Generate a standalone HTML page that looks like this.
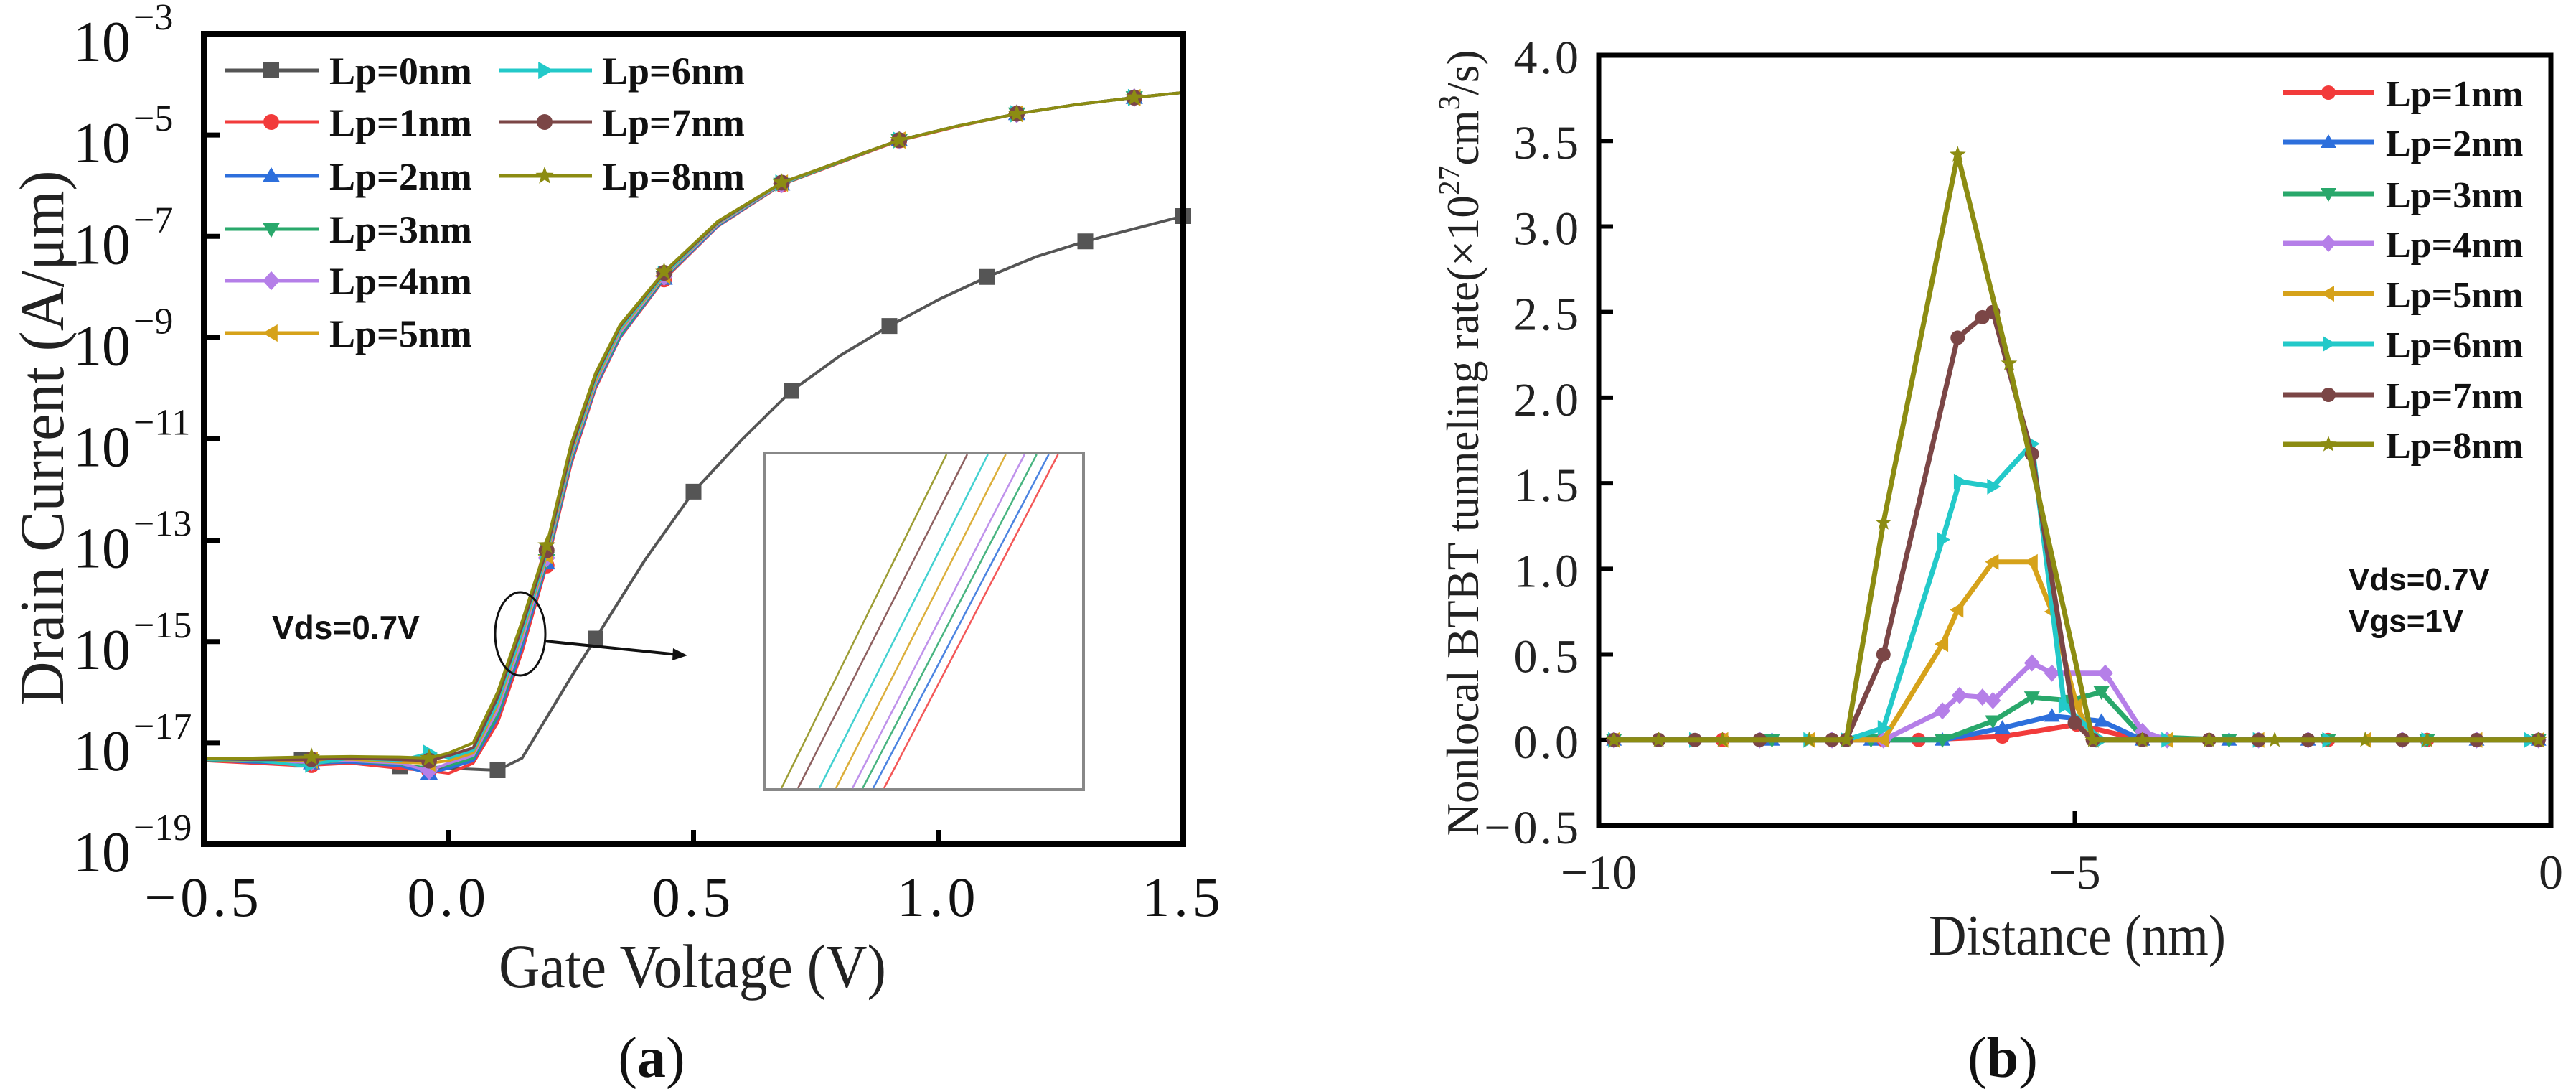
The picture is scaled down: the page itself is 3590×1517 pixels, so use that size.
<!DOCTYPE html>
<html><head><meta charset="utf-8"><style>
html,body{margin:0;padding:0;background:#fff;}
svg{display:block;}
text{font-family:"Liberation Serif",serif;}
.sans{font-family:"Liberation Sans",sans-serif;font-weight:bold;}
</style></head>
<body>
<svg id="fig" width="3590" height="1517" viewBox="0 0 3590 1517" xmlns="http://www.w3.org/2000/svg">
<rect width="3590" height="1517" fill="#fff"/>
<g id="pa"></g>
<g id="pb"></g>
</svg>
<script>
// ---------- Panel (a) data ----------
const aXTicks = [-0.5, 0.0, 0.5, 1.0, 1.5];
const aXTickLabels = ["\u22120.5", "0.0", "0.5", "1.0", "1.5"];
const aYTickExps = [-3, -5, -7, -9, -11, -13, -15, -17, -19];
const aSeriesNames = ["Lp=0nm","Lp=1nm","Lp=2nm","Lp=3nm","Lp=4nm","Lp=5nm","Lp=6nm","Lp=7nm","Lp=8nm"];
const lp0V = [-0.5,-0.3,-0.1,0.1,0.15,0.2,0.25,0.3,0.4,0.5,0.6,0.7,0.8,0.9,1.0,1.1,1.2,1.3,1.4,1.5];
const lp0Log = [-17.35,-17.33,-17.46,-17.54,-17.3,-16.5,-15.7,-14.94,-13.4,-12.04,-11.0,-10.05,-9.35,-8.77,-8.25,-7.8,-7.4,-7.1,-6.85,-6.6];
const lp0MarkV = [-0.3,-0.1,0.1,0.3,0.5,0.7,0.9,1.1,1.3,1.5];
const aV = [-0.5,-0.4,-0.3,-0.2,-0.1,-0.04,0.0,0.05,0.1,0.15,0.2,0.25,0.3,0.35,0.44,0.55,0.68,0.8,0.92,1.04,1.16,1.28,1.4,1.5];
const lp1Log = [-17.35,-17.4,-17.45,-17.4,-17.5,-17.55,-17.6,-17.4,-16.6,-15.2,-13.5,-11.5,-10.0,-9.0,-7.85,-6.8,-5.98,-5.54,-5.11,-4.83,-4.58,-4.4,-4.26,-4.16];
const lp2Log = [-17.33,-17.38,-17.4,-17.38,-17.45,-17.6,-17.5,-17.35,-16.5,-15.1,-13.45,-11.45,-9.97,-8.98,-7.83,-6.79,-5.97,-5.53,-5.1,-4.82,-4.58,-4.4,-4.26,-4.16];
const lp3Log = [-17.33,-17.36,-17.4,-17.35,-17.42,-17.5,-17.45,-17.3,-16.45,-15.0,-13.4,-11.4,-9.93,-8.95,-7.81,-6.77,-5.97,-5.53,-5.1,-4.82,-4.58,-4.4,-4.26,-4.16];
const lp4Log = [-17.32,-17.35,-17.38,-17.35,-17.4,-17.55,-17.4,-17.25,-16.35,-14.95,-13.35,-11.35,-9.9,-8.9,-7.79,-6.76,-5.96,-5.52,-5.1,-4.82,-4.58,-4.4,-4.26,-4.16];
const lp5Log = [-17.32,-17.35,-17.35,-17.32,-17.38,-17.4,-17.35,-17.2,-16.25,-14.85,-13.3,-11.3,-9.85,-8.85,-7.77,-6.74,-5.95,-5.52,-5.1,-4.82,-4.58,-4.4,-4.26,-4.16];
const lp6Log = [-17.32,-17.34,-17.45,-17.3,-17.35,-17.2,-17.3,-17.15,-16.2,-14.8,-13.25,-11.25,-9.8,-8.82,-7.75,-6.73,-5.95,-5.52,-5.1,-4.82,-4.58,-4.4,-4.26,-4.16];
const lp7Log = [-17.31,-17.33,-17.33,-17.3,-17.33,-17.35,-17.25,-17.1,-16.1,-14.7,-13.2,-11.2,-9.75,-8.78,-7.72,-6.72,-5.94,-5.52,-5.1,-4.82,-4.58,-4.4,-4.26,-4.16];
const lp8Log = [-17.3,-17.3,-17.28,-17.27,-17.28,-17.3,-17.2,-17.0,-16.0,-14.6,-13.1,-11.1,-9.7,-8.75,-7.7,-6.7,-5.94,-5.52,-5.1,-4.82,-4.58,-4.4,-4.26,-4.16];
const aMarkV = [-0.28,-0.04,0.2,0.44,0.68,0.92,1.16,1.4];
// inset: bottom/top x-positions (fraction of inset width) for Lp1..Lp8
const insetBottom = [0.392,0.374,0.340,0.307,0.275,0.223,0.171,0.104,0.052];
const insetTop = [0.0,0.920,0.891,0.853,0.815,0.756,0.700,0.635,0.570];

// ---------- Panel (b) data ----------
const bXTicks = [-10, -5, 0];
const bXTickLabels = ["\u221210", "\u22125", "0"];
const bYTicks = [4.0,3.5,3.0,2.5,2.0,1.5,1.0,0.5,0.0,-0.5];
const bYTickLabels = ["4.0","3.5","3.0","2.5","2.0","1.5","1.0","0.5","0.0","\u22120.5"];
const bNames = ["Lp=1nm","Lp=2nm","Lp=3nm","Lp=4nm","Lp=5nm","Lp=6nm","Lp=7nm","Lp=8nm"];
const b1X = [-9.84,-8.70,-7.55,-7.01,-6.64,-5.76,-4.98,-4.29,-3.59,-2.34,-1.30,-0.13];
const b1Y = [0,0,0,0,0,0.02,0.09,0,0,0,0,0];
const b2X = [-9.84,-8.18,-7.14,-6.39,-5.76,-5.24,-4.72,-4.29,-3.38,-2.55,-0.78,-0.13];
const b2Y = [0,0,0,0,0.07,0.14,0.11,0,0,0,0,0];
const b3X = [-9.84,-8.18,-7.14,-6.39,-5.86,-5.45,-5.06,-4.72,-4.29,-3.38,-2.34,-1.30,-0.13];
const b3Y = [0,0,0,0,0.11,0.25,0.23,0.28,0.02,0,0,0,0];
const b4X = [-9.84,-8.31,-7.55,-7.01,-6.39,-6.21,-5.97,-5.86,-5.45,-5.24,-4.68,-4.29,-4.03,-3.07,-2.55,-1.56,-0.78,-0.13];
const b4Y = [0,0,0,0,0.17,0.26,0.25,0.23,0.45,0.39,0.39,0.05,0,0,0,0,0,0];
const b5X = [-9.84,-8.70,-7.79,-7.01,-6.39,-6.23,-5.86,-5.45,-5.24,-4.98,-4.81,-4.03,-3.07,-1.95,-0.78,-0.13];
const b5Y = [0,0,0,0,0.56,0.76,1.04,1.04,0.75,0.2,0,0,0,0,0,0];
const b6X = [-9.84,-8.99,-7.79,-7.40,-7.01,-6.39,-6.21,-5.86,-5.45,-5.11,-4.72,-4.03,-3.07,-2.34,-1.30,-0.22];
const b6Y = [0,0,0,0,0.07,1.17,1.51,1.48,1.73,0.2,0,0,0,0,0,0];
const b7X = [-9.84,-9.37,-8.99,-8.31,-7.55,-7.40,-7.01,-6.23,-5.97,-5.86,-5.45,-5.0,-4.81,-4.29,-3.59,-3.07,-2.55,-1.56,-0.78,-0.13];
const b7Y = [0,0,0,0,0,0,0.5,2.35,2.47,2.5,1.67,0.1,0,0,0,0,0,0,0,0];
const b8X = [-9.84,-9.37,-8.70,-7.79,-7.40,-7.01,-6.23,-5.69,-4.81,-4.29,-3.59,-2.90,-1.95,-1.30,-0.13];
const b8Y = [0,0,0,0,0,1.27,3.42,2.2,0,0,0,0,0,0,0];

const NS = "http://www.w3.org/2000/svg";
const colors = ["#555555","#f23b3b","#2d6fdc","#29a86b","#b57fe8","#d6a21a","#23c9c9","#7b4646","#8c8c12"];
const shapes = ["square","circle","up","down","diamond","left","right","circle","star"];

function mk(parent, tag, attrs, txt){
  const e = document.createElementNS(NS, tag);
  for (const k in attrs) e.setAttribute(k, attrs[k]);
  if (txt !== undefined) e.textContent = txt;
  parent.appendChild(e);
  return e;
}
function markerPath(shape, cx, cy, s){
  const r = s/2;
  switch(shape){
    case "square": return `M${cx-r},${cy-r}h${s}v${s}h${-s}Z`;
    case "circle": return `M${cx-r},${cy}a${r},${r} 0 1,0 ${s},0a${r},${r} 0 1,0 ${-s},0Z`;
    case "up": return `M${cx},${cy-r*1.1}L${cx+r*1.1},${cy+r*0.8}L${cx-r*1.1},${cy+r*0.8}Z`;
    case "down": return `M${cx},${cy+r*1.1}L${cx+r*1.1},${cy-r*0.8}L${cx-r*1.1},${cy-r*0.8}Z`;
    case "diamond": return `M${cx},${cy-r*1.2}L${cx+r*1.1},${cy}L${cx},${cy+r*1.2}L${cx-r*1.1},${cy}Z`;
    case "left": return `M${cx-r*1.1},${cy}L${cx+r*0.8},${cy-r*1.1}L${cx+r*0.8},${cy+r*1.1}Z`;
    case "right": return `M${cx+r*1.1},${cy}L${cx-r*0.8},${cy-r*1.1}L${cx-r*0.8},${cy+r*1.1}Z`;
    case "star": {
      let d="";
      for(let i=0;i<10;i++){const a=-Math.PI/2+i*Math.PI/5;const rr=i%2?r*0.5:r*1.2;
        d+=(i?"L":"M")+(cx+rr*Math.cos(a)).toFixed(1)+","+(cy+rr*Math.sin(a)).toFixed(1);}
      return d+"Z";
    }
  }
}
function interp(xs, ys, x){
  for(let i=0;i<xs.length-1;i++){
    if(x>=xs[i] && x<=xs[i+1]){const t=(x-xs[i])/(xs[i+1]-xs[i]);return ys[i]+t*(ys[i+1]-ys[i]);}
  }
  return ys[ys.length-1];
}

// ================= Panel A =================
(function(){
  const g = document.getElementById("pa");
  const L=284, R=1649, T=47, B=1176;
  const xS = v => L + (v - (-0.5)) / 2.0 * (R - L);
  const yS = lg => B - (lg - (-19)) / 16 * (B - T);

  const axes = mk(g,"g",{});
  
  
  // ticks
  aXTicks.forEach((v,i)=>{
    const x = xS(v);
    if(i>0 && i<aXTicks.length-1){
      const t = mk(axes,"line",{x1:x,y1:B,x2:x,y2:B-20,stroke:"#000","stroke-width":7});
      
      
    }
    const tl = mk(axes,"text",{x:x,y:1276,"text-anchor":"middle","font-size":78,fill:"#111","letter-spacing":"6"},aXTickLabels[i]);
    
    
  });
  aYTickExps.forEach((e,i)=>{
    const y = yS(e);
    if(i>0 && i<aYTickExps.length-1){
      const t = mk(axes,"line",{x1:L,y1:y,x2:L+22,y2:y,stroke:"#000","stroke-width":7});
      
      
    }
    const tl = mk(axes,"text",{x:182,y:y+38,"text-anchor":"end","font-size":80,fill:"#111"},"10");
    
    
    const ex = mk(axes,"text",{x:186,y:y-6,"text-anchor":"start","font-size":52,fill:"#111"},"\u2212"+Math.abs(e));
    
    
  });

  // series
  const series = [[lp0V,lp0Log],[aV,lp1Log],[aV,lp2Log],[aV,lp3Log],[aV,lp4Log],[aV,lp5Log],[aV,lp6Log],[aV,lp7Log],[aV,lp8Log]];
  series.forEach((s,k)=>{
    const [xs, ys] = s;
    const sg = mk(g,"g",{});
    
    
    let d="";
    xs.forEach((v,i)=>{ d += (i?"L":"M")+xS(v).toFixed(1)+","+yS(ys[i]).toFixed(1); });
    const p = mk(sg,"path",{d:d,fill:"none",stroke:colors[k],"stroke-width":4,"stroke-linejoin":"round"});
    
    
    const mv = k===0 ? lp0MarkV : aMarkV;
    mv.forEach(v=>{
      const m = mk(sg,"path",{d:markerPath(shapes[k], xS(v), yS(interp(xs,ys,v)), 22),fill:colors[k]});
      
      
    });
  });

  // frame
  const fr = mk(g,"rect",{x:L,y:T,width:R-L,height:B-T,fill:"none",stroke:"#000","stroke-width":8});
  
  

  // inset
  const ig = mk(g,"g",{});
  
  
  const iL=1066, iR=1510, iT=631, iB=1100;
  mk(ig,"rect",{x:iL,y:iT,width:iR-iL,height:iB-iT,fill:"#fff",stroke:"#888","stroke-width":4});
  for(let k=1;k<=8;k++){
    const x1 = iL + insetBottom[k]*(iR-iL), x2 = iL + insetTop[k]*(iR-iL);
    const ln = mk(ig,"line",{x1:x1,y1:iB-2,x2:x2,y2:iT+2,stroke:colors[k],"stroke-width":2.5,opacity:0.85});
    
    
  }

  // annotation
  const el = mk(g,"ellipse",{cx:725,cy:883,rx:35,ry:58,fill:"none",stroke:"#111","stroke-width":3});
  
  
  const ar = mk(g,"line",{x1:759,y1:893,x2:945,y2:912,stroke:"#111","stroke-width":4});
  
  
  const ah = mk(g,"path",{d:"M958,913 L938,903 L937,920 Z",fill:"#111"});
  
  
  const vt = mk(g,"text",{x:379,y:890,"font-size":46,fill:"#111",class:"sans"},"Vds=0.7V");
  
  

  // legend
  const lg = mk(g,"g",{});
  
  
  const rows=[98,170,245,319,391,464];
  aSeriesNames.forEach((n,k)=>{
    const col = k<6?0:1, row = k<6?k:k-6;
    const y = rows[row];
    const lx1 = col?696:313, lx2 = col?825:445, mx = col?759:378, tx = col?839:459;
    const e = mk(lg,"g",{});
    
    
    mk(e,"line",{x1:lx1,y1:y,x2:lx2,y2:y,stroke:colors[k],"stroke-width":5});
    mk(e,"path",{d:markerPath(shapes[k],mx,y,22),fill:colors[k]});
    mk(e,"text",{x:tx,y:y+19,"font-size":54,"font-weight":"bold",fill:"#111"},n);
  });

  const xt = mk(g,"text",{x:965,y:1375,"text-anchor":"middle","font-size":86,fill:"#222",textLength:540,lengthAdjust:"spacingAndGlyphs"},"Gate Voltage (V)");
  
  
  const yt = mk(g,"text",{x:0,y:0,"text-anchor":"middle","font-size":88,fill:"#222",transform:"translate(88,610) rotate(-90)",textLength:745,lengthAdjust:"spacingAndGlyphs"},"Drain Current (A/\u03bcm)");
  
  
  const cap = mk(g,"text",{x:908,y:1500,"text-anchor":"middle","font-size":80,fill:"#111"});
  
  
  mk(cap,"tspan",{},"(");
  mk(cap,"tspan",{"font-weight":"bold"},"a");
  mk(cap,"tspan",{},")");
})();

// ================= Panel B =================
(function(){
  const g = document.getElementById("pb");
  const L=2228, R=3555, T=77, B=1150;
  const xS = v => L + (v + 10) / 10 * (R - L);
  const yS = v => B - (v + 0.5) / 4.5 * (B - T);

  const axes = mk(g,"g",{});
  
  
  bYTicks.forEach((v,i)=>{
    const y=yS(v);
    if(i>0 && i<bYTicks.length-1){
      const t = mk(axes,"line",{x1:L,y1:y,x2:L+20,y2:y,stroke:"#000","stroke-width":6});
      
      
    }
    const tl = mk(axes,"text",{x:2204,y:y+25,"text-anchor":"end","font-size":66,fill:"#222","letter-spacing":"4"},bYTickLabels[i]);
    
    
  });
  bXTicks.forEach((v,i)=>{
    const x=xS(v);
    if(i===1){
      const t = mk(axes,"line",{x1:x,y1:B,x2:x,y2:B-20,stroke:"#000","stroke-width":6});
      
      
    }
    const tl = mk(axes,"text",{x:x,y:1238,"text-anchor":"middle","font-size":68,fill:"#222"},bXTickLabels[i]);
    
    
  });

  const series = [[b1X,b1Y],[b2X,b2Y],[b3X,b3Y],[b4X,b4Y],[b5X,b5Y],[b6X,b6Y],[b7X,b7Y],[b8X,b8Y]];
  series.forEach((s,j)=>{
    const k=j+1;
    const [xs, ys] = s;
    const sg = mk(g,"g",{});
    
    
    let d="";
    xs.forEach((v,i)=>{ d += (i?"L":"M")+xS(v).toFixed(1)+","+yS(ys[i]).toFixed(1); });
    const p = mk(sg,"path",{d:d,fill:"none",stroke:colors[k],"stroke-width":7,"stroke-linejoin":"round"});
    
    
    xs.forEach((v,i)=>{
      const m = mk(sg,"path",{d:markerPath(shapes[k], xS(v), yS(ys[i]), 20),fill:colors[k]});
      
      
    });
  });

  const fr = mk(g,"rect",{x:L,y:T,width:R-L,height:B-T,fill:"none",stroke:"#000","stroke-width":7});
  
  

  const lg = mk(g,"g",{});
  
  
  const rows=[129,198,270,339,409,479,550,619];
  bNames.forEach((n,j)=>{
    const k=j+1, y=rows[j];
    const e = mk(lg,"g",{});
    
    
    mk(e,"line",{x1:3182,y1:y,x2:3308,y2:y,stroke:colors[k],"stroke-width":7});
    mk(e,"path",{d:markerPath(shapes[k],3245,y,20),fill:colors[k]});
    mk(e,"text",{x:3325,y:y+19,"font-size":52,"font-weight":"bold",fill:"#111"},n);
  });

  const v1 = mk(g,"text",{x:3273,y:822,"font-size":44,fill:"#111",class:"sans"},"Vds=0.7V");
  
  
  const v2 = mk(g,"text",{x:3273,y:880,"font-size":44,fill:"#111",class:"sans"},"Vgs=1V");
  
  

  const xt = mk(g,"text",{x:2895,y:1330,"text-anchor":"middle","font-size":80,fill:"#222",textLength:414,lengthAdjust:"spacingAndGlyphs"},"Distance (nm)");
  
  
  const yt = mk(g,"text",{x:0,y:0,"text-anchor":"middle","font-size":64,fill:"#222",transform:"translate(2060,617) rotate(-90)",textLength:1095,lengthAdjust:"spacingAndGlyphs"});
  
  
  mk(yt,"tspan",{},"Nonlocal BTBT tunneling rate(\u00d710");
  mk(yt,"tspan",{dy:-26,"font-size":42},"27");
  mk(yt,"tspan",{dy:26},"cm");
  mk(yt,"tspan",{dy:-26,"font-size":42},"3");
  mk(yt,"tspan",{dy:26},"/s)");
  const cap = mk(g,"text",{x:2791,y:1500,"text-anchor":"middle","font-size":80,fill:"#111"});
  
  
  mk(cap,"tspan",{},"(");
  mk(cap,"tspan",{"font-weight":"bold"},"b");
  mk(cap,"tspan",{},")");
})();
</script>
</body></html>
